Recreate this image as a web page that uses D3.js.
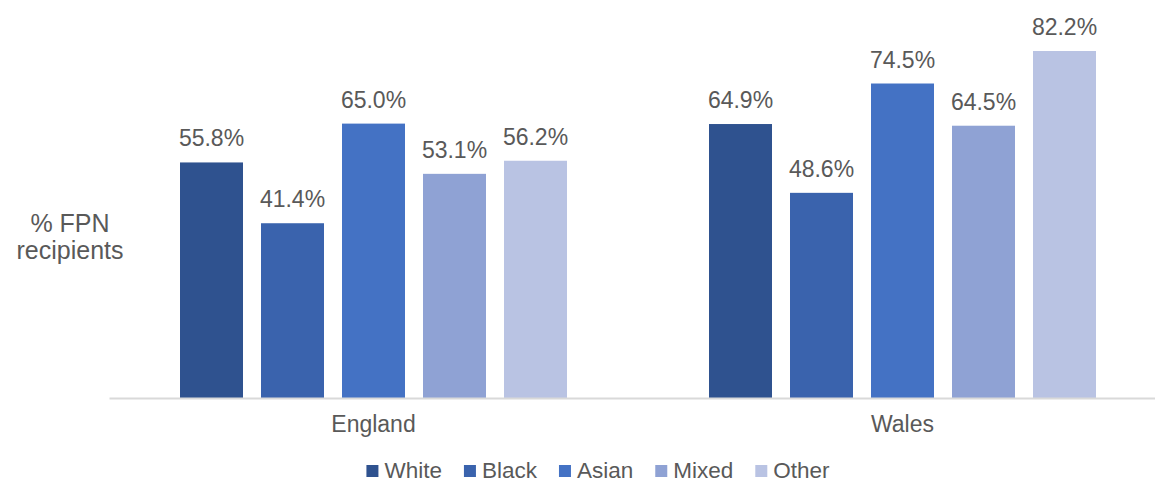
<!DOCTYPE html>
<html>
<head>
<meta charset="utf-8">
<script src="https://cdn.jsdelivr.net/npm/d3@7"></script>
<style>
  body { margin: 0; background: #fff; }
  svg { display: block; font-family: "Liberation Sans", Arial, sans-serif; }
</style>
</head>
<body>
<svg id="chart" width="1155" height="483"></svg>
<script>
const categories = ["England", "Wales"];
const seriesNames = ["White", "Black", "Asian", "Mixed", "Other"];
const england = [55.8, 41.4, 65.0, 53.1, 56.2];
const wales = [64.9, 48.6, 74.5, 64.5, 82.2];
const colors = ["#2F528F", "#3A63AD", "#4472C4", "#8FA2D4", "#B9C3E3"];
const yTitle = ["% FPN", "recipients"];

const values = { England: england, Wales: wales };
const svg = d3.select("#chart");
const baseY = 398;

const x0 = d3.scaleBand().domain(categories).range([109, 1167]).padding(0);
const x1 = d3.scaleBand().domain(seriesNames).range([71, 458]).paddingInner(18 / 81).paddingOuter(0);
const y = d3.scaleLinear().domain([0, 90]).range([baseY, baseY - 90 * (347 / 82.2)]);
const color = d3.scaleOrdinal().domain(seriesNames).range(colors);

const groups = svg.selectAll("g.cat").data(categories).enter().append("g")
  .attr("class", "cat")
  .attr("transform", d => `translate(${x0(d)},0)`);

groups.selectAll("rect").data(c => seriesNames.map((s, i) => ({ s, v: values[c][i] })))
  .enter().append("rect")
  .attr("x", d => x1(d.s))
  .attr("y", d => y(d.v))
  .attr("width", x1.bandwidth())
  .attr("height", d => y(0) - y(d.v))
  .attr("fill", d => color(d.s));

groups.selectAll("text.val").data(c => seriesNames.map((s, i) => ({ s, v: values[c][i] })))
  .enter().append("text")
  .attr("class", "val")
  .attr("x", d => x1(d.s) + x1.bandwidth() / 2)
  .attr("y", d => y(d.v) - 16)
  .attr("text-anchor", "middle")
  .attr("font-size", "23px")
  .attr("fill", "#595959")
  .text(d => d.v.toFixed(1) + "%");

// axis
const axis = d3.axisBottom(x0).tickSize(0).tickPadding(18);
const ax = svg.append("g").attr("transform", `translate(0,${baseY})`).call(axis);
ax.select(".domain").attr("stroke", "#d9d9d9").attr("stroke-width", 2);
ax.selectAll("text").attr("font-size", "23px").attr("fill", "#595959")
  .attr("font-family", "Liberation Sans, Arial, sans-serif");

// y title
svg.append("text").attr("text-anchor", "middle").attr("font-size", "25px").attr("fill", "#595959")
  .selectAll("tspan").data(yTitle).enter().append("tspan")
  .attr("x", 70).attr("y", (d, i) => 232 + i * 27).text(d => d);

// legend
const leg = svg.append("g");
const items = leg.selectAll("g").data(seriesNames).enter().append("g");
items.append("rect").attr("width", 12).attr("height", 12).attr("y", 465).attr("fill", d => color(d));
items.append("text").attr("x", 18).attr("y", 478).attr("font-size", "22.5px").attr("fill", "#595959").text(d => d);
let xpos = 0;
const widths = [];
items.each(function () { widths.push(18 + this.querySelector("text").getComputedTextLength()); });
const gap = 22;
const total = d3.sum(widths) + gap * (widths.length - 1);
xpos = 598 - total / 2;
items.attr("transform", (d, i) => {
  const t = `translate(${xpos},0)`;
  xpos += widths[i] + gap;
  return t;
});
</script>
</body>
</html>
